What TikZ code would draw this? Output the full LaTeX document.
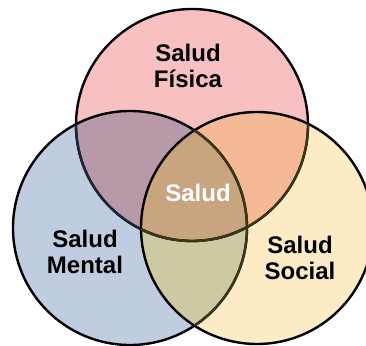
\documentclass[tikz,border=0pt]{standalone}
\usepackage{fontspec}
\setmainfont{Liberation Sans}
\definecolor{rosa}{HTML}{F8C0C0}
\definecolor{azul}{HTML}{C0CDE0}
\definecolor{crema}{HTML}{FCEBC5}
\definecolor{rosaazul}{HTML}{B899A9}
\definecolor{rosacrema}{HTML}{F5B995}
\definecolor{azulcrema}{HTML}{CCC9A3}
\definecolor{centro}{HTML}{C8A47F}
\definecolor{bordeazul}{HTML}{1C2636}
\definecolor{bordecrema}{HTML}{3C3516}

\begin{document}
\begin{tikzpicture}[x=1pt,y=-1pt,
                    lbl/.style={font=\bfseries\fontsize{24}{26}\selectfont,
                                align=center,inner sep=0pt},
                    ring/.style={line width=2.4pt}]

  \useasboundingbox (0,0) rectangle (366,345);

  \coordinate (fisica) at (192,125);
  \coordinate (mental) at (130,228);
  \coordinate (social) at (257,228);

  % fills
  \fill[rosa]  (fisica) circle (116pt);
  \fill[azul]  (mental) circle (117pt);
  \fill[crema] (social) circle (116pt);
  \begin{scope}
    \clip (fisica) circle (116pt);
    \fill[rosaazul]  (mental) circle (117pt);
    \fill[rosacrema] (social) circle (116pt);
  \end{scope}
  \begin{scope}
    \clip (mental) circle (117pt);
    \fill[azulcrema] (social) circle (116pt);
  \end{scope}
  \begin{scope}
    \clip (fisica) circle (116pt);
    \clip (mental) circle (117pt);
    \fill[centro] (social) circle (116pt);
  \end{scope}

  % outlines
  \draw[ring] (fisica) circle (116pt);
  \draw[ring] (mental) circle (117pt);
  \draw[ring] (social) circle (116pt);
  \begin{scope}
    \clip (mental) circle (117pt);
    \draw[ring,bordeazul] (fisica) circle (116pt);
  \end{scope}
  \begin{scope}
    \clip (social) circle (116pt);
    \draw[ring,bordecrema] (fisica) circle (116pt);
    \draw[ring,bordecrema] (mental) circle (117pt);
  \end{scope}

  % labels
  \node[lbl]       (tfisica) at (188,66)  {Salud\\Física};
  \node[lbl]       (tmental) at (85,252)  {Salud\\Mental};
  \node[lbl]       (tsocial) at (300,258) {Salud\\Social};
  \node[lbl,white] (tsalud)  at (198,193) {Salud};
\end{tikzpicture}
\end{document}
